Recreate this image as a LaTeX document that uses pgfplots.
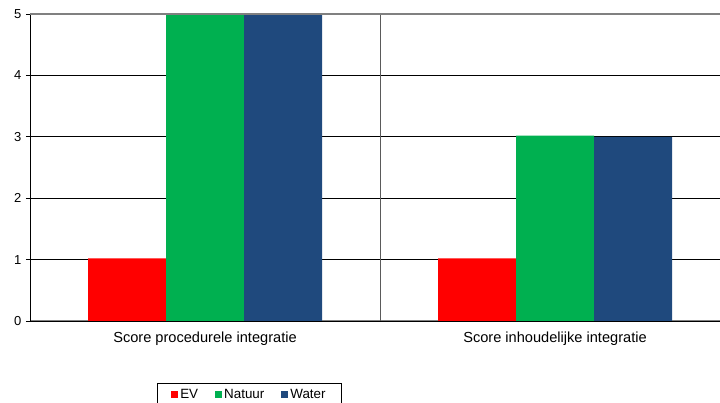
\documentclass[border=0pt]{standalone}
\usepackage{fontspec}
\setmainfont{Liberation Sans}
\usepackage{pgfplots}
\pgfplotsset{compat=1.18}
\definecolor{evred}{HTML}{FF0000}
\definecolor{natgreen}{HTML}{00B050}
\definecolor{wblue}{HTML}{1F497D}
\definecolor{axgray}{HTML}{808080}
\begin{document}
\begin{tikzpicture}
\begin{axis}[
  at={(30pt,82pt)}, anchor=south west,
  scale only axis, width=700pt, height=307pt,
  xmin=-0.5, xmax=1.5, ymin=0, ymax=5,
  ybar=0pt, bar width=78pt,
  axis x line=bottom, axis y line=left,
  axis line style={-},
  x axis line style={axgray, line width=1pt},
  y axis line style={black, line width=0.8pt},
  xtick={0,1},
  xticklabels={Score procedurele integratie, Score inhoudelijke integratie},
  x tick label style={font=\fontsize{14.6pt}{16pt}\selectfont, yshift=-3pt},
  major x tick style={draw=none},
  extra x ticks={0.5},
  extra x tick labels={},
  extra x tick style={grid=major, major grid style={axgray!70!black, line width=1pt}, tick style={draw=axgray!70!black, line width=1pt}, major tick length=5pt, tick align=outside},
  ytick={0,1,2,3,4,5},
  y tick label style={font=\fontsize{13pt}{15pt}\selectfont, xshift=-1pt},
  /pgf/number format/assume math mode=true,
  tick align=outside, major tick length=4pt,
  ytick style={black, line width=0.8pt},
  ymajorgrids, major grid style={black, line width=0.7pt},
  legend columns=3,
  legend style={at={(0.1814,-0.202)}, anchor=north west, draw=black, line width=0.6pt,
    font=\fontsize{13.4pt}{15pt}\selectfont, inner xsep=14pt, inner ysep=4pt,
    /tikz/every even column/.append style={column sep=15pt}},
  legend image code/.code={\fill[#1,draw=none] (0pt,-3.5pt) rectangle (7pt,3.5pt);},
  clip=false,
]
\addplot[fill=evred, draw=none] coordinates {(0,1.02) (1,1.02)};
\addplot[fill=natgreen, draw=none] coordinates {(0,5) (1,3.02)};
\addplot[fill=wblue, draw=none] coordinates {(0,5) (1,3)};
\legend{EV, Natuur, Water}
\draw[axgray, line width=1.5pt] (axis cs:-0.5,5) -- (axis cs:1.5,5);
\end{axis}
\pgfresetboundingbox
\useasboundingbox (0,0) rectangle (720pt,403pt);
\end{tikzpicture}
\end{document}
